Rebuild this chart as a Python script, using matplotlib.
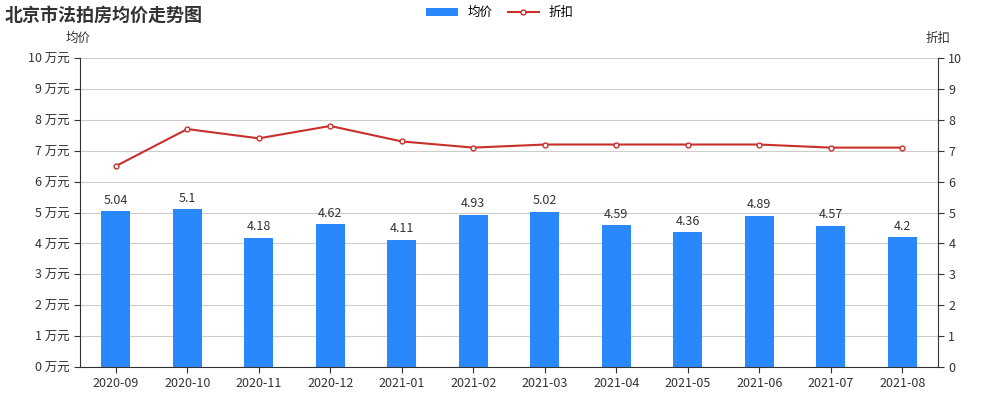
import matplotlib.pyplot as plt
import numpy as np

plt.rcParams['font.family'] = ['Noto Sans CJK SC', 'DejaVu Sans']

months = ["2020-09", "2020-10", "2020-11", "2020-12", "2021-01", "2021-02",
          "2021-03", "2021-04", "2021-05", "2021-06", "2021-07", "2021-08"]
avg_price = [5.04, 5.1, 4.18, 4.62, 4.11, 4.93, 5.02, 4.59, 4.36, 4.89, 4.57, 4.2]
discount = [6.5, 7.7, 7.4, 7.8, 7.3, 7.1, 7.2, 7.2, 7.2, 7.2, 7.1, 7.1]

bar_color = "#2a88fd"
line_color = "#c9302c"
axis_color = "#333333"

fig = plt.figure(figsize=(10, 4), dpi=100)
ax = fig.add_axes([0.08, 0.0825, 0.858, 0.7725])
ax2 = ax.twinx()

x = np.arange(len(months))
ax.bar(x, avg_price, width=0.4, color=bar_color, zorder=2, label="均价")
for xi, v in zip(x, avg_price):
    ax.text(xi, v + 0.15, f"{v:g}", ha="center", va="bottom", fontsize=9, color="#333333")

ax2.plot(x, discount, color=line_color, lw=1.5, marker="o", ms=3.5,
         mfc="white", mec=line_color, mew=1, zorder=3, label="折扣")

ax.set_xlim(-0.5, len(months) - 0.5)
ax.set_ylim(0, 10)
ax2.set_ylim(0, 10)
ax.set_yticks(range(11))
ax.set_yticklabels([f"{i} 万元" for i in range(11)])
ax2.set_yticks(range(11))
ax.set_xticks(x)
ax.set_xticklabels(months)
ax.grid(axis="y", color="#cccccc", lw=0.8, zorder=0)
ax.set_axisbelow(True)

for a in (ax, ax2):
    a.tick_params(labelsize=9, colors=axis_color, length=4)
    for s in a.spines.values():
        s.set_visible(False)
ax.spines["left"].set_visible(True)
ax.spines["bottom"].set_visible(True)
ax2.spines["right"].set_visible(True)
for s in (ax.spines["left"], ax.spines["bottom"], ax2.spines["right"]):
    s.set_color(axis_color)

fig.text(0.005, 0.962, "北京市法拍房均价走势图", fontsize=13, fontweight="bold", color="#333333", va="center")
fig.text(0.078, 0.905, "均价", fontsize=9, color=axis_color, ha="center", va="center")
fig.text(0.938, 0.905, "折扣", fontsize=9, color=axis_color, ha="center", va="center")

h1, l1 = ax.get_legend_handles_labels()
h2, l2 = ax2.get_legend_handles_labels()
fig.legend(h1 + h2, l1 + l2, loc="center", bbox_to_anchor=(0.5, 0.968), ncol=2,
           frameon=False, fontsize=9, handlelength=2.5, columnspacing=1.2)

fig.savefig("out.png", dpi=100)
